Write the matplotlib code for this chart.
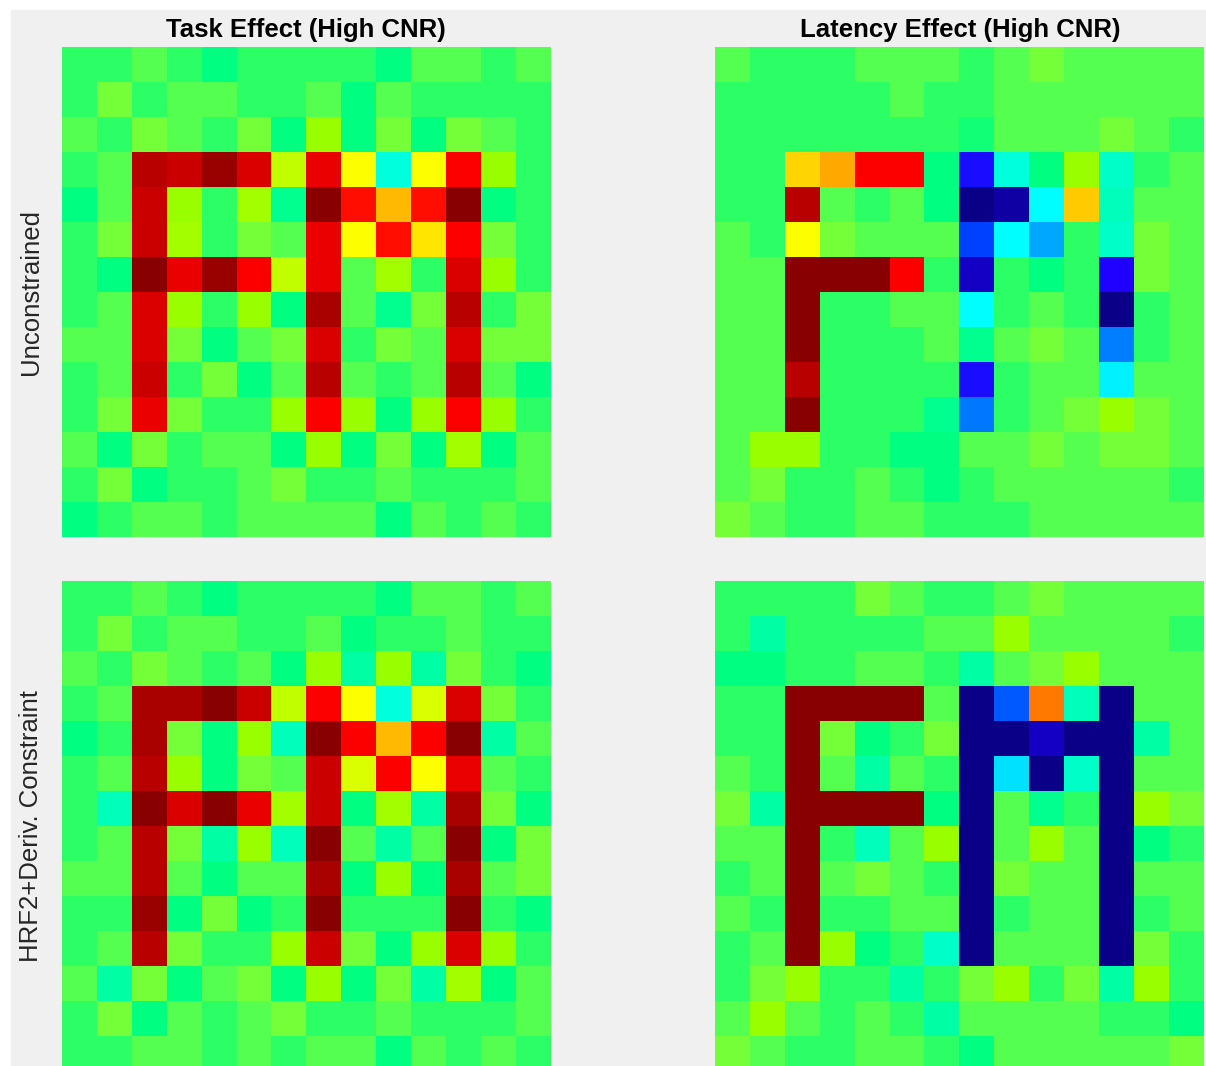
import matplotlib
matplotlib.use('Agg')
import matplotlib.pyplot as plt
import numpy as np
from matplotlib.colors import LinearSegmentedColormap
from matplotlib.patches import Rectangle

# 14x14 effect maps, scaled 0..1
task_unconstrained = [
    [.47, .47, .51, .47, .44, .47, .47, .47, .47, .44, .51, .51, .47, .51],
    [.47, .53, .47, .51, .51, .47, .47, .51, .44, .51, .47, .47, .47, .47],
    [.51, .47, .53, .51, .47, .53, .44, .56, .44, .53, .44, .53, .51, .47],
    [.47, .51, .94, .92, .98, .90, .59, .88, .64, .39, .64, .86, .56, .47],
    [.44, .51, .92, .56, .47, .57, .43, 1.0, .85, .72, .85, 1.0, .44, .47],
    [.47, .53, .92, .57, .47, .53, .51, .88, .64, .85, .67, .86, .53, .47],
    [.47, .44, 1.0, .88, .98, .86, .59, .88, .51, .57, .47, .90, .56, .47],
    [.47, .51, .90, .56, .47, .56, .44, .96, .51, .43, .53, .94, .47, .53],
    [.51, .51, .90, .53, .44, .51, .53, .90, .47, .53, .51, .90, .53, .53],
    [.47, .51, .92, .47, .53, .44, .51, .94, .51, .47, .51, .94, .51, .44],
    [.47, .53, .88, .53, .47, .47, .56, .86, .56, .44, .56, .86, .56, .47],
    [.51, .44, .53, .47, .51, .51, .44, .56, .44, .53, .44, .57, .44, .51],
    [.47, .53, .44, .47, .47, .51, .53, .47, .47, .51, .47, .47, .47, .51],
    [.44, .47, .51, .51, .47, .51, .51, .51, .51, .44, .51, .47, .51, .47],
]

latency_unconstrained = [
    [.51, .47, .47, .47, .51, .51, .51, .47, .51, .53, .51, .51, .51, .51],
    [.47, .47, .47, .47, .47, .51, .47, .47, .51, .51, .51, .51, .51, .51],
    [.47, .47, .47, .47, .47, .47, .47, .45, .51, .51, .51, .53, .51, .47],
    [.47, .47, .69, .74, .86, .86, .44, .14, .39, .44, .56, .40, .47, .51],
    [.47, .47, .94, .51, .47, .51, .44, .00, .03, .37, .70, .41, .51, .51],
    [.51, .47, .64, .53, .51, .51, .51, .20, .37, .31, .47, .40, .53, .51],
    [.51, .51, 1.0, 1.0, 1.0, .86, .47, .06, .47, .44, .47, .12, .53, .51],
    [.51, .51, 1.0, .47, .47, .51, .51, .37, .47, .51, .47, .00, .47, .51],
    [.51, .51, 1.0, .47, .47, .47, .51, .43, .51, .53, .51, .27, .47, .51],
    [.51, .51, .94, .47, .47, .47, .47, .14, .47, .51, .51, .36, .51, .51],
    [.51, .51, 1.0, .47, .47, .47, .43, .265, .47, .51, .53, .56, .53, .51],
    [.51, .56, .56, .47, .47, .44, .44, .51, .51, .53, .51, .53, .53, .51],
    [.51, .53, .47, .47, .51, .47, .44, .47, .51, .51, .51, .51, .51, .47],
    [.53, .51, .47, .47, .51, .51, .47, .47, .47, .51, .51, .51, .51, .51],
]

task_hrf2 = [
    [.47, .47, .51, .47, .44, .47, .47, .47, .47, .44, .51, .51, .47, .51],
    [.47, .53, .47, .51, .51, .47, .47, .51, .44, .47, .47, .51, .47, .47],
    [.51, .47, .53, .51, .47, .51, .44, .56, .42, .56, .42, .53, .47, .44],
    [.47, .51, .96, .96, 1.0, .92, .59, .86, .64, .39, .61, .90, .53, .47],
    [.44, .47, .96, .53, .44, .56, .41, 1.0, .86, .72, .86, 1.0, .42, .51],
    [.47, .51, .94, .56, .44, .53, .51, .92, .61, .86, .64, .88, .51, .47],
    [.47, .41, 1.0, .90, 1.0, .88, .57, .92, .44, .57, .42, .96, .53, .44],
    [.47, .51, .94, .53, .42, .56, .41, 1.0, .51, .42, .51, 1.0, .44, .53],
    [.51, .51, .94, .51, .44, .51, .51, .96, .44, .56, .44, .96, .51, .53],
    [.47, .47, .98, .44, .53, .44, .47, 1.0, .47, .47, .47, 1.0, .47, .44],
    [.47, .51, .94, .53, .47, .47, .56, .92, .53, .44, .56, .90, .56, .47],
    [.51, .42, .53, .44, .51, .53, .44, .56, .44, .53, .42, .57, .44, .51],
    [.47, .53, .44, .51, .47, .51, .53, .47, .47, .51, .47, .47, .47, .51],
    [.47, .47, .51, .51, .47, .51, .47, .51, .51, .44, .51, .47, .51, .47],
]

latency_hrf2 = [
    [.47, .47, .47, .47, .53, .51, .47, .47, .51, .53, .51, .51, .51, .51],
    [.47, .42, .47, .47, .47, .47, .51, .51, .56, .51, .51, .51, .51, .47],
    [.44, .44, .47, .47, .51, .51, .47, .42, .51, .53, .56, .51, .51, .51],
    [.47, .47, 1.0, 1.0, 1.0, 1.0, .51, .00, .23, .78, .41, .00, .51, .51],
    [.47, .47, 1.0, .53, .44, .47, .53, .00, .00, .06, .00, .00, .42, .51],
    [.51, .47, 1.0, .51, .42, .51, .47, .00, .35, .00, .40, .00, .51, .51],
    [.53, .42, 1.0, 1.0, 1.0, 1.0, .44, .00, .51, .43, .47, .00, .56, .53],
    [.51, .51, 1.0, .47, .41, .51, .56, .00, .51, .56, .51, .00, .44, .47],
    [.47, .51, 1.0, .51, .53, .51, .47, .00, .53, .51, .51, .00, .51, .51],
    [.51, .47, 1.0, .47, .47, .51, .51, .00, .47, .51, .51, .00, .47, .51],
    [.47, .51, 1.0, .56, .44, .47, .40, .00, .51, .51, .51, .00, .53, .47],
    [.47, .53, .56, .47, .47, .42, .47, .53, .56, .47, .53, .42, .56, .47],
    [.51, .56, .51, .47, .51, .47, .42, .51, .51, .51, .51, .47, .47, .44],
    [.53, .51, .47, .47, .51, .51, .47, .44, .51, .51, .51, .51, .51, .53],
]

col_titles = ['Task Effect (High CNR)', 'Latency Effect (High CNR)']
row_labels = ['Unconstrained', 'HRF2+Deriv. Constraint']

# jet-like map, tuned to the screenshot colours
cmap = LinearSegmentedColormap.from_list('jetish', [
    (0.00, '#0a0088'), (0.12, '#2000ff'), (0.20, '#0040ff'), (0.30, '#0099ff'),
    (0.37, '#00ffff'), (0.44, '#00ff80'), (0.47, '#2cff66'), (0.51, '#55ff50'),
    (0.53, '#77ff38'), (0.56, '#99ff00'), (0.64, '#ffff00'), (0.76, '#ff9900'),
    (0.86, '#ff0000'), (1.00, '#880000')])

W, H = 1206, 1066
fig = plt.figure(figsize=(W / 100, H / 100), dpi=100, facecolor='white')
fig.patches.append(Rectangle((11 / W, 0), 1 - 11 / W, (H - 10) / H,
                             transform=fig.transFigure, color='#f0f0f0', zorder=-10))

lefts = [61.7, 715.3]
tops = [46.7, 581.0]
panel_w, panel_h = 489.0, 490.0
maps = [[task_unconstrained, latency_unconstrained],
        [task_hrf2, latency_hrf2]]

for r in range(2):
    for c in range(2):
        ax = fig.add_axes([lefts[c] / W, (H - tops[r] - panel_h) / H,
                           panel_w / W, panel_h / H])
        ax.imshow(np.array(maps[r][c]), cmap=cmap, vmin=0, vmax=1,
                  aspect='auto', interpolation='nearest')
        ax.axis('off')

for c in range(2):
    fig.text((lefts[c] + panel_w / 2) / W, (H - 37.5) / H, col_titles[c],
             ha='center', va='baseline', fontsize=18.5, fontweight='bold',
             family='Liberation Sans', color='black')

for r in range(2):
    fig.text(19 / W, (H - tops[r] - panel_h / 2) / H, row_labels[r],
             rotation=90, ha='left', va='center', fontsize=18.5,
             family='Liberation Sans', color='#262626')

fig.savefig('out.png', dpi=100, facecolor=fig.get_facecolor())
